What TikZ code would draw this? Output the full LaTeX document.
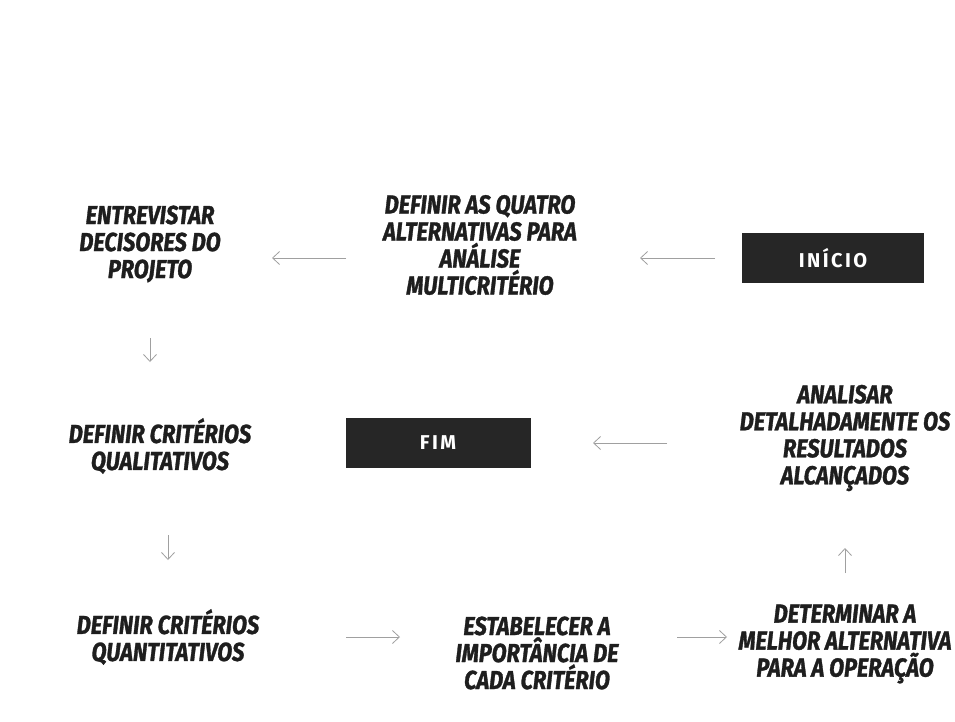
\documentclass[tikz,border=0pt]{standalone}
\usepackage{fontspec}
\setmainfont{Fira Sans}[FakeStretch=0.84, BoldItalicFeatures={FakeBold=1.2}]
\newfontfamily\boxfont{Fira Sans}[LetterSpace=12]
\usetikzlibrary{arrows.meta}
\definecolor{ink}{HTML}{1E1E1E}
\definecolor{boxgray}{HTML}{262626}
\definecolor{arrowgray}{HTML}{A0A0A0}

\tikzset{
  stepnode/.style={inner sep=0pt, align=center, text=ink,
    font=\fontsize{26}{27}\selectfont\bfseries\itshape},
  endbox/.style={fill=boxgray, minimum width=182pt, minimum height=50pt,
    inner sep=0pt, text=white, font=\boxfont\fontsize{20}{22}\selectfont\bfseries},
  flow/.style={draw=arrowgray, line width=0.8pt,
    -{Straight Barb[length=7pt,width=13pt]}},
}

\begin{document}
\begin{tikzpicture}[x=1pt,y=-1pt]
  \fill[white] (0,0) rectangle (955,722);
  \useasboundingbox (0,0) rectangle (955,722);

  % top row
  \node[stepnode] (entrev) at (150,244) {ENTREVISTAR\\DECISORES DO\\PROJETO};
  \node[stepnode] (quatro) at (480,245) {DEFINIR AS QUATRO\\ALTERNATIVAS PARA\\ANÁLISE\\MULTICRITÉRIO};
  \node[endbox] (inicio) at (833,258) {INÍCIO};

  % middle row
  \node[stepnode] (quali) at (160,446) {DEFINIR CRITÉRIOS\\QUALITATIVOS};
  \node[endbox, minimum width=185pt] (fim) at (438,443) {FIM};
  \node[stepnode] (analisar) at (845,438) {ANALISAR\\DETALHADAMENTE OS\\RESULTADOS\\ALCANÇADOS};

  % bottom row
  \node[stepnode] (quanti) at (168,637) {DEFINIR CRITÉRIOS\\QUANTITATIVOS};
  \node[stepnode] (import) at (537,653) {ESTABELECER A\\IMPORTÂNCIA DE\\CADA CRITÉRIO};
  \node[stepnode] (determ) at (845,644) {DETERMINAR A\\MELHOR ALTERNATIVA\\PARA A OPERAÇÃO};

  % connectors
  \draw[flow, shorten <=118pt, shorten >=160pt] (inicio.center) -- (quatro.center |- inicio.center);
  \draw[flow, shorten <=134pt, shorten >=122pt] (quatro.center |- inicio.center) -- (entrev.center |- inicio.center);
  \draw[flow, shorten <=94pt, shorten >=84pt] (entrev.center) -- (entrev.center |- quali.center);
  \draw[flow, shorten <=89pt, shorten >=77pt] (quanti.center |- quali.center) -- (quanti.center);
  \draw[flow, shorten <=178pt, shorten >=137pt] (quanti.center) -- (quanti.center -| import.center);
  \draw[flow, shorten <=140pt, shorten >=118pt] (import.center |- quanti.center) -- (determ.center |- quanti.center);
  \draw[flow, shorten <=71pt, shorten >=110pt] (determ.center) -- (determ.center |- analisar.center);
  \draw[flow, shorten <=178pt, shorten >=155pt] (analisar.center |- fim.center) -- (fim.center);
\end{tikzpicture}
\end{document}
